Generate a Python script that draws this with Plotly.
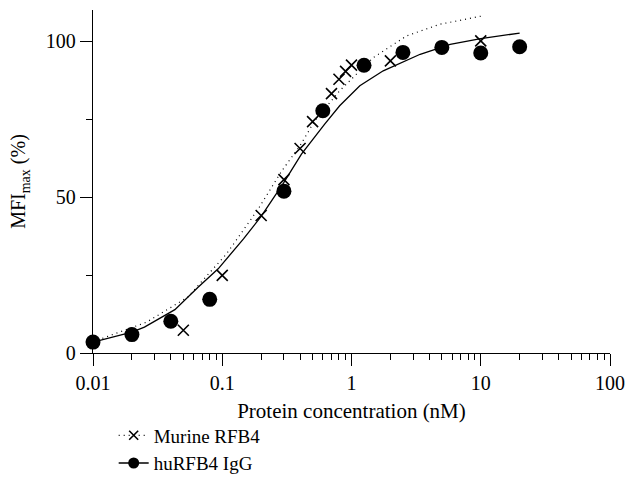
import plotly.graph_objects as go

# Measured data points
murine_x = [0.05, 0.1, 0.2, 0.3, 0.4, 0.5, 0.7, 0.8, 0.9, 1.0, 2.0, 10.0]
murine_y = [7.3, 24.9, 44.1, 55.6, 65.6, 74.2, 83.2, 87.8, 90.3, 92.3, 93.7, 100.1]

hu_x = [0.01, 0.02, 0.04, 0.08, 0.3, 0.6, 1.25, 2.5, 5.0, 10.0, 20.0]
hu_y = [3.5, 5.9, 10.2, 17.2, 51.9, 77.7, 92.3, 96.4, 98.0, 96.2, 98.2]

# Fitted curves
murine_fit_x = [0.01, 0.026, 0.054, 0.108, 0.133, 0.19, 0.29, 0.4, 0.52, 0.81, 1.47, 2.67, 4.8, 10.0]
murine_fit_y = [3.6, 9.9, 17.9, 31.8, 37.1, 46.2, 58.5, 66.5, 74.5, 84.1, 94.7, 101.7, 105.4, 108.0]

hu_fit_x = [0.01, 0.02, 0.025, 0.043, 0.065, 0.093, 0.146, 0.2, 0.3, 0.41, 0.62, 0.81, 1.16, 1.76, 3.4, 5.8, 10.0, 20.0]
hu_fit_y = [3.5, 6.7, 8.3, 13.9, 21.1, 27.0, 36.6, 43.8, 54.7, 63.8, 73.4, 79.3, 85.7, 90.5, 95.8, 99.0, 100.8, 102.6]

x_tickvals = [0.01, 0.1, 1, 10, 100]
x_ticktext = ["0.01", "0.1", "1", "10", "100"]
y_tickvals = [0, 50, 100]
series_names = ["Murine RFB4", "huRFB4 IgG"]

FONT = "Liberation Serif"
FS = 20
minor_x = [m * 10 ** k for k in range(-2, 2) for m in range(2, 10)]

fig = go.Figure()

fig.add_trace(go.Scatter(x=murine_fit_x, y=murine_fit_y, mode="lines",
                         line=dict(color="black", width=1.2, dash="1px,4px"),
                         showlegend=False, cliponaxis=False))
fig.add_trace(go.Scatter(x=hu_fit_x, y=hu_fit_y, mode="lines",
                         line=dict(color="black", width=1.3),
                         showlegend=False, cliponaxis=False))
fig.add_trace(go.Scatter(x=murine_x, y=murine_y, mode="markers",
                         marker=dict(symbol="x-thin", size=11, color="black",
                                     line=dict(color="black", width=1.6)),
                         showlegend=False, cliponaxis=False))
fig.add_trace(go.Scatter(x=hu_x, y=hu_y, mode="markers",
                         marker=dict(symbol="circle", size=15, color="black"),
                         showlegend=False, cliponaxis=False))

# Legend entries
fig.add_trace(go.Scatter(x=[None], y=[None], mode="lines+markers", name=series_names[0],
                         line=dict(color="black", width=1.2, dash="1px,4px"),
                         marker=dict(symbol="x-thin", size=9, color="black",
                                     line=dict(color="black", width=1.6))))
fig.add_trace(go.Scatter(x=[None], y=[None], mode="lines+markers", name=series_names[1],
                         line=dict(color="black", width=1.3),
                         marker=dict(symbol="circle", size=11, color="black")))

fig.update_layout(
    width=627, height=484,
    margin=dict(l=93, r=17, t=10, b=131, autoexpand=False),
    paper_bgcolor="white", plot_bgcolor="white",
    font=dict(family=FONT, size=FS, color="black"),
    showlegend=True,
    legend=dict(x=0.04, y=-0.185, xanchor="left", yanchor="top",
                font=dict(family=FONT, size=19, color="black"),
                bgcolor="rgba(0,0,0,0)", itemwidth=30, tracegroupgap=0),
    xaxis=dict(type="log", range=[-2, 2], tickmode="array",
               tickvals=x_tickvals, ticktext=x_ticktext,
               ticks="outside", ticklen=12, tickwidth=1.3, tickcolor="black",
               showline=True, linecolor="black", linewidth=1.3,
               showgrid=False, zeroline=False,
               minor=dict(tickmode="array", tickvals=minor_x, ticks="outside",
                          ticklen=6, tickwidth=1.2, tickcolor="black", showgrid=False),
               title=dict(text="Protein concentration (nM)", standoff=10,
                          font=dict(family=FONT, size=21, color="black")),
               tickfont=dict(family=FONT, size=FS, color="black")),
    yaxis=dict(range=[0, 110], tickmode="array", tickvals=y_tickvals,
               ticks="outside", ticklen=12, tickwidth=1.3, tickcolor="black",
               showline=True, linecolor="black", linewidth=1.3,
               showgrid=False, zeroline=False,
               minor=dict(tickmode="array", tickvals=[25, 75], ticks="outside",
                          ticklen=6, tickwidth=1.2, tickcolor="black", showgrid=False),
               title=dict(text="MFI<sub>max</sub> (%)", standoff=14,
                          font=dict(family=FONT, size=FS, color="black")),
               tickfont=dict(family=FONT, size=FS, color="black")),
)

fig.write_html("out.html", post_script="document.body.style.margin='0';",
               config={"displayModeBar": False})
